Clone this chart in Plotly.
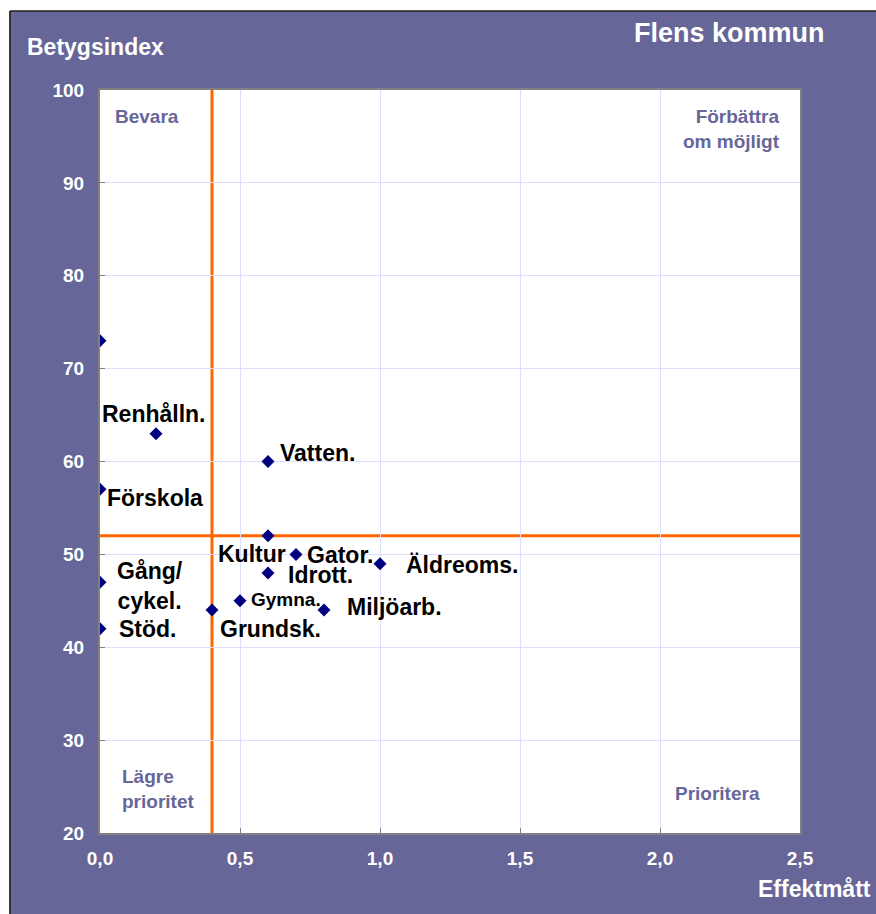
import plotly.graph_objects as go

# Effektmått (x) and Betygsindex (y) per verksamhet
labels = ["", "Renhålln.", "Vatten.", "Förskola", "Kultur", "Gator.", "Idrott.",
          "Äldreoms.", "Gång/<br>cykel.", "Gymna.", "Grundsk.", "Miljöarb.", "Stöd."]
effekt = [0.0, 0.2, 0.6, 0.0, 0.6, 0.7, 0.6, 1.0, 0.0, 0.5, 0.4, 0.8, 0.0]
betyg = [73, 63, 60, 57, 52, 50, 48, 49, 47, 45, 44, 44, 42]

x_threshold = 0.4
y_threshold = 52

x_ticks = [0.0, 0.5, 1.0, 1.5, 2.0, 2.5]
y_ticks = [20, 30, 40, 50, 60, 70, 80, 90, 100]

PURPLE = "#666699"
ORANGE = "#FF6600"
GRID = "#DDDDFF"
FONT = "Liberation Sans, Arial, sans-serif"

# label placement (anchor, xshift, yshift, size) per point
label_style = [
    None,
    ("center", -2, 20, 23),
    ("left", 10, 9, 23),
    ("left", 5, -9, 23),
    ("right", 20, -18, 23),
    ("left", 9, -1, 23),
    ("left", 18, -2, 23),
    ("left", 24, -1, 23),
    ("center", 50, -4, 23),
    ("left", 9, 1, 19),
    ("left", 6, -19, 23),
    ("left", 21, 3, 23),
    ("left", 17, 0, 23),
]

fig = go.Figure(go.Scatter(
    x=effekt,
    y=betyg,
    mode="markers",
    marker=dict(symbol="diamond", size=10, color="#000080"),
    hoverinfo="skip",
    showlegend=False,
))

annotations = []
for xv, yv, txt, st in zip(effekt, betyg, labels, label_style):
    if st is None:
        continue
    anchor, dx, dy, size = st
    annotations.append(dict(
        x=xv, y=yv, xref="x", yref="y", text=f"<b>{txt}</b>",
        showarrow=False, xanchor=anchor, yanchor="middle",
        xshift=dx, yshift=dy, align="center",
        font=dict(family=FONT, size=size, color="black")))

def paper_note(text, x, y, xanchor, size, color, align="left"):
    return dict(x=x, y=y, xref="paper", yref="paper", text=f"<b>{text}</b>",
                showarrow=False, xanchor=xanchor, yanchor="middle", align=align,
                font=dict(family=FONT, size=size, color=color))

annotations += [
    paper_note("Betygsindex", -0.1071, 1.0579, "left", 23, "white"),
    paper_note("Flens kommun", 1.0386, 1.0767, "right", 27, "white"),
    paper_note("Effektmått", 1.1043, -0.0754, "right", 23, "white"),
    paper_note("Bevara", 0.0186, 0.9637, "left", 19, PURPLE),
    paper_note("Förbättra<br>om möjligt", 0.9743, 0.9475, "right", 19, PURPLE, "right"),
    paper_note("Lägre<br>prioritet", 0.0286, 0.0592, "left", 19, PURPLE),
    paper_note("Prioritera", 0.8186, 0.0525, "left", 19, PURPLE),
]

shapes = [
    # white outside the purple frame
    dict(type="rect", xref="paper", yref="paper", x0=-0.2, x1=-0.12857, y0=-0.2, y1=1.2,
         fillcolor="white", line=dict(width=0)),
    dict(type="rect", xref="paper", yref="paper", x0=-0.2, x1=1.2, y0=1.10633, y1=1.2,
         fillcolor="white", line=dict(width=0)),
    dict(type="line", xref="paper", yref="paper", x0=-0.12857, x1=-0.12857, y0=-0.2, y1=1.10633,
         line=dict(color="#333333", width=2)),
    dict(type="line", xref="paper", yref="paper", x0=-0.12857, x1=1.2, y0=1.10633, y1=1.10633,
         line=dict(color="#222222", width=1.5)),
    # threshold lines
    dict(type="line", xref="x", yref="paper", x0=x_threshold, x1=x_threshold, y0=0, y1=1,
         line=dict(color=ORANGE, width=3), layer="below"),
    dict(type="line", xref="paper", yref="y", x0=0, x1=1, y0=y_threshold, y1=y_threshold,
         line=dict(color=ORANGE, width=3), layer="below"),
]

fig.update_layout(
    width=876, height=914,
    margin=dict(l=100, r=76, t=90, b=81),
    paper_bgcolor=PURPLE,
    plot_bgcolor="white",
    separators=",.",
    font=dict(family=FONT, color="white"),
    annotations=annotations,
    shapes=shapes,
)

axis_common = dict(
    showgrid=True, gridcolor=GRID, gridwidth=1,
    showline=True, linecolor="#808080", linewidth=2, mirror=True,
    ticks="inside", ticklen=5, tickcolor="#808080",
    zeroline=False,
    tickfont=dict(family=FONT, size=19, color="white", weight="bold"),
)

fig.update_xaxes(range=[0, 2.5], tickvals=x_ticks, tickformat=".1f",
                 ticklabelstandoff=7, **axis_common)
fig.update_yaxes(range=[20, 100], tickvals=y_ticks,
                 ticklabelstandoff=10, **axis_common)

# drop the default body margin so the figure fills the window
fig.write_html("out.html", config={"displayModeBar": False},
               post_script="document.body.style.margin='0';document.body.style.overflow='hidden';")
